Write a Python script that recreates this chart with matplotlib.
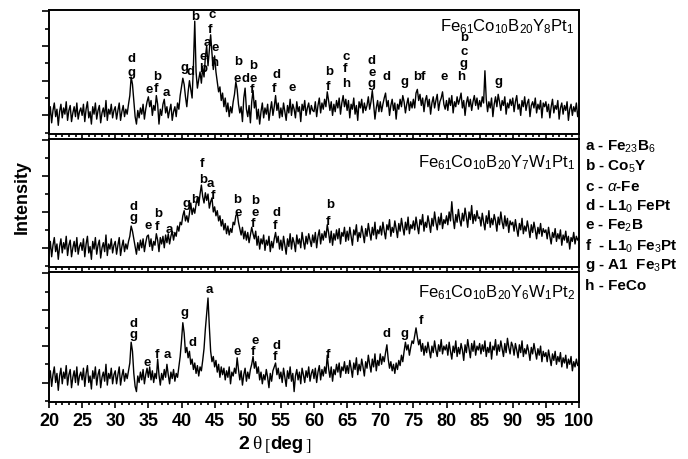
import matplotlib
matplotlib.use('Agg')
import matplotlib.pyplot as plt
import numpy as np
from matplotlib.ticker import MultipleLocator, FixedLocator

plt.rcParams['font.family'] = ['Liberation Sans', 'DejaVu Sans']
plt.rcParams['mathtext.fontset'] = 'custom'
plt.rcParams['mathtext.rm'] = 'Liberation Sans'
plt.rcParams['mathtext.it'] = 'Liberation Sans:italic'
plt.rcParams['mathtext.bf'] = 'Liberation Sans:bold'

# intensity (% of panel height), 20..100 deg, 0.2 deg step
top_pattern = [
    12, 22, 9, 19, 25, 14, 20, 7, 18, 24, 13, 21, 16, 26, 11, 19, 23, 10, 17, 22, 14, 25, 12, 18, 21,
    15, 24, 10, 20, 26, 13, 18, 8, 22, 16, 25, 12, 19, 23, 9, 17, 21, 14, 27, 11, 20, 16, 24, 13, 19,
    22, 12, 19, 25, 11, 18, 23, 14, 20, 16, 24, 31, 46, 40, 27, 14, 8, 19, 13, 21, 16, 24, 12, 20, 26,
    30, 22, 27, 15, 23, 19, 31, 24, 8, 20, 15, 24, 28, 17, 22, 13, 19, 24, 11, 18, 22, 14, 25, 20, 31,
    38, 45, 40, 30, 22, 34, 43, 36, 29, 55, 91, 50, 37, 44, 50, 41, 54, 46, 62, 71, 55, 67, 80, 65, 52,
    63, 50, 42, 34, 38, 27, 33, 22, 29, 18, 25, 14, 22, 17, 26, 32, 42, 36, 24, 17, 22, 10, 29, 37, 20,
    14, 23, 9, 26, 35, 21, 27, 12, 20, 8, 18, 25, 13, 21, 16, 24, 11, 19, 26, 15, 22, 31, 19, 25, 13,
    21, 14, 25, 18, 11, 23, 17, 28, 15, 24, 20, 13, 26, 18, 22, 10, 24, 19, 27, 15, 21, 25, 16, 23, 19,
    18, 26, 14, 23, 29, 17, 25, 20, 28, 22, 34, 27, 19, 26, 15, 24, 18, 27, 21, 29, 16, 25, 31, 22, 28,
    19, 27, 13, 24, 20, 29, 16, 23, 11, 26, 21, 28, 17, 25, 19, 23, 30, 20, 26, 35, 24, 12, 21, 27, 18,
    26, 18, 24, 29, 33, 22, 27, 15, 23, 28, 19, 25, 12, 24, 20, 28, 22, 31, 26, 17, 24, 29, 19, 26, 21,
    28, 21, 33, 36, 27, 32, 23, 29, 18, 27, 31, 22, 28, 16, 25, 30, 21, 27, 32, 19, 26, 29, 34, 24, 20,
    27, 19, 29, 23, 31, 17, 26, 22, 30, 24, 28, 33, 21, 27, 15, 25, 30, 22, 28, 19, 26, 31, 23, 29, 20,
    27, 22, 30, 25, 51, 28, 18, 26, 21, 29, 14, 24, 30, 22, 32, 26, 19, 27, 23, 30, 16, 25, 21, 28, 23,
    29, 18, 26, 31, 20, 24, 15, 27, 22, 30, 19, 25, 28, 14, 23, 26, 21, 29, 17, 24, 20, 27, 13, 25, 22,
    26, 18, 24, 13, 22, 28, 17, 23, 20, 27, 12, 21, 25, 16, 23, 19, 26, 11, 20, 24, 15, 22, 18, 25, 14,
    20,
]
mid_pattern = [
    11, 20, 8, 17, 23, 12, 18, 6, 16, 22, 11, 19, 14, 24, 9, 17, 21, 8, 15, 20, 12, 23, 10, 16, 19,
    13, 22, 8, 18, 24, 11, 16, 6, 20, 14, 23, 10, 17, 21, 7, 15, 19, 12, 25, 9, 18, 14, 22, 11, 17,
    20, 10, 17, 23, 9, 16, 21, 12, 18, 14, 20, 24, 32, 28, 22, 16, 10, 19, 13, 21, 15, 22, 12, 19, 24,
    25, 16, 22, 13, 20, 17, 26, 21, 12, 23, 18, 24, 15, 25, 19, 26, 18, 24, 28, 21, 27, 24, 32, 28, 35,
    33, 40, 44, 36, 40, 35, 42, 50, 41, 46, 42, 49, 54, 48, 57, 64, 55, 50, 58, 52, 57, 46, 51, 54, 43,
    47, 40, 44, 36, 40, 32, 37, 29, 34, 26, 32, 25, 30, 27, 35, 33, 40, 42, 35, 30, 25, 31, 22, 28, 21,
    27, 19, 25, 31, 26, 22, 28, 17, 24, 14, 22, 18, 25, 13, 21, 17, 24, 12, 20, 15, 22, 27, 19, 24, 14,
    21, 13, 24, 17, 10, 22, 16, 26, 14, 23, 19, 12, 25, 18, 22, 15, 27, 20, 14, 24, 18, 26, 21, 16, 25,
    19, 27, 15, 24, 29, 18, 26, 21, 28, 23, 33, 27, 19, 28, 17, 26, 21, 29, 22, 30, 18, 27, 24, 31, 20,
    28, 21, 31, 24, 17, 29, 25, 33, 20, 27, 23, 32, 26, 19, 30, 24, 34, 27, 21, 31, 25, 35, 22, 29, 26,
    32, 25, 35, 28, 22, 33, 29, 37, 24, 31, 27, 36, 30, 23, 34, 28, 38, 31, 25, 35, 29, 39, 26, 33, 30,
    36, 29, 39, 32, 26, 37, 33, 41, 28, 35, 31, 40, 34, 27, 38, 32, 43, 35, 29, 39, 33, 42, 30, 37, 34,
    40, 33, 43, 36, 51, 38, 30, 41, 35, 45, 37, 32, 42, 36, 46, 39, 31, 43, 37, 48, 34, 41, 36, 44, 38,
    39, 32, 42, 35, 29, 40, 34, 44, 31, 38, 33, 41, 36, 28, 39, 33, 43, 35, 30, 40, 32, 38, 27, 36, 33,
    35, 28, 37, 30, 24, 34, 29, 38, 26, 32, 28, 36, 30, 23, 33, 27, 35, 29, 22, 31, 26, 34, 24, 30, 27,
    29, 22, 31, 24, 18, 27, 23, 30, 20, 26, 22, 29, 17, 25, 21, 28, 19, 24, 14, 23, 20, 27, 18, 24, 21,
    23,
]
bot_pattern = [
    16, 24, 12, 21, 27, 15, 22, 9, 20, 26, 14, 23, 18, 28, 13, 21, 25, 11, 19, 24, 15, 27, 13, 20, 23,
    17, 26, 12, 22, 28, 15, 20, 10, 24, 18, 27, 13, 21, 25, 11, 19, 23, 16, 29, 13, 22, 18, 26, 14, 21,
    24, 14, 21, 27, 13, 20, 25, 16, 22, 18, 24, 30, 46, 39, 22, 12, 8, 20, 15, 23, 17, 25, 14, 21, 26,
    19, 27, 17, 24, 15, 22, 18, 33, 21, 13, 22, 17, 25, 19, 29, 21, 14, 23, 18, 25, 16, 22, 19, 27, 35,
    47, 61, 53, 38, 42, 34, 39, 29, 33, 25, 30, 22, 28, 20, 27, 24, 32, 41, 56, 68, 80, 58, 39, 31, 35,
    27, 32, 23, 29, 19, 27, 21, 26, 17, 24, 19, 27, 14, 23, 20, 26, 22, 34, 25, 17, 24, 13, 21, 26, 16,
    23, 18, 25, 29, 35, 26, 31, 22, 27, 17, 23, 14, 21, 17, 25, 19, 11, 22, 16, 24, 27, 30, 21, 26, 18,
    23, 15, 26, 19, 12, 24, 18, 27, 16, 22, 8, 20, 25, 17, 23, 14, 26, 21, 15, 24, 19, 27, 16, 22, 25,
    18, 26, 15, 23, 28, 17, 25, 20, 27, 22, 36, 26, 19, 27, 16, 25, 21, 29, 23, 30, 19, 27, 24, 31, 22,
    28, 22, 32, 26, 19, 30, 25, 34, 21, 29, 24, 33, 27, 20, 31, 26, 36, 29, 23, 33, 27, 37, 24, 32, 28,
    37, 29, 35, 31, 38, 44, 33, 26, 31, 24, 29, 22, 30, 25, 32, 28, 36, 31, 39, 46, 40, 44, 36, 42, 47,
    45, 51, 57, 50, 44, 48, 39, 45, 36, 43, 38, 46, 40, 34, 43, 38, 47, 40, 35, 44, 39, 48, 37, 43, 40,
    44, 36, 46, 39, 33, 43, 38, 47, 35, 42, 37, 45, 40, 32, 44, 38, 48, 41, 34, 45, 39, 47, 36, 43, 40,
    45, 37, 44, 39, 47, 35, 42, 38, 46, 33, 43, 40, 48, 36, 44, 39, 47, 41, 35, 45, 38, 49, 42, 37, 46,
    43, 36, 45, 40, 34, 44, 38, 47, 35, 41, 37, 44, 39, 32, 42, 37, 45, 39, 33, 41, 36, 43, 31, 39, 35,
    38, 31, 40, 34, 28, 37, 32, 39, 29, 35, 31, 38, 27, 34, 30, 36, 26, 33, 29, 35, 24, 31, 27, 33, 28,
    30,
]

top_name = r'Fe$_{61}$Co$_{10}$B$_{20}$Y$_{8}$Pt$_{1}$'
mid_name = r'Fe$_{61}$Co$_{10}$B$_{20}$Y$_{7}$W$_{1}$Pt$_{1}$'
bot_name = r'Fe$_{61}$Co$_{10}$B$_{20}$Y$_{6}$W$_{1}$Pt$_{2}$'

# peak letters: (2theta, height %, phase)
top_marks = [
    (32.5, 61, 'd'), (32.5, 50, 'g'), (35.1, 36, 'e'), (36.3, 47, 'b'), (36.15, 37, 'f'),
    (37.7, 34, 'a'), (40.4, 54, 'g'), (41.4, 51, 'd'), (42.0, 95, 'b'), (44.6, 97, 'c'),
    (44.3, 85, 'f'), (43.85, 74, 'a'), (45.05, 70, 'e'), (43.25, 63, 'e'), (43.25, 53, 'b'),
    (44.9, 58, 'h'), (48.5, 59, 'b'), (48.4, 45, 'e'), (49.7, 45, 'd'), (50.8, 45, 'e'),
    (50.8, 56, 'b'), (50.6, 36, 'f'), (54.3, 48, 'd'), (54.0, 37, 'f'), (56.7, 38, 'e'),
    (62.3, 51, 'b'), (62.1, 39, 'f'), (64.8, 63, 'c'), (64.7, 53, 'f'), (64.8, 41, 'h'),
    (68.75, 60, 'd'), (68.75, 50, 'e'), (68.75, 41, 'g'), (71.0, 47, 'd'), (73.6, 43, 'g'),
    (75.85, 47, 'bf'), (79.6, 47, 'e'), (82.6, 78, 'b'), (82.6, 67, 'c'), (82.6, 57, 'g'),
    (82.2, 47, 'h'), (87.9, 43, 'g'),
]
mid_marks = [
    (32.7, 48, 'd'), (32.7, 39, 'g'), (34.9, 33, 'e'), (36.45, 42, 'b'), (36.3, 32, 'f'),
    (38.1, 30, 'a'), (40.7, 50, 'g'), (42.0, 53, 'b'), (43.1, 81, 'f'), (43.2, 69, 'b'),
    (44.3, 66, 'a'), (44.8, 56, 'f'), (48.4, 53, 'b'), (48.5, 43, 'e'), (51.1, 52, 'b'),
    (51.1, 43, 'e'), (50.8, 34, 'f'), (54.4, 43, 'd'), (54.1, 33, 'f'), (62.4, 49, 'b'),
    (62.1, 36, 'f'),
]
bot_marks = [
    (32.7, 61, 'd'), (32.7, 52, 'g'), (34.8, 31, 'e'), (36.3, 37, 'f'), (37.8, 37, 'a'),
    (40.5, 69, 'g'), (41.6, 46, 'd'), (44.15, 87, 'a'), (48.4, 39, 'e'), (51.1, 48, 'e'),
    (50.8, 39, 'f'), (54.3, 44, 'd'), (54.1, 35, 'f'), (62.1, 37, 'f'), (71.0, 53, 'd'),
    (73.7, 53, 'g'), (76.15, 63, 'f'),
]

legend_lines = [
    r'a - Fe$_{23}$B$_{6}$', r'b - Co$_{5}$Y', r'c - $\alpha$-Fe', r'd - L1$_{0}$ FePt',
    r'e - Fe$_{2}$B', r'f  - L1$_{0}$ Fe$_{3}$Pt', r'g - A1  Fe$_{3}$Pt', 'h - FeCo',
]

W, H = 688, 460
fig = plt.figure(figsize=(W / 100, H / 100), dpi=100)

# panel pixel boxes (top, bottom)
boxes = [(11, 135), (140, 268), (273, 403)]
left_px, right_px = 49, 579

panels = [
    (top_pattern, top_name, top_marks, 0.87),
    (mid_pattern, mid_name, mid_marks, 0.82),
    (bot_pattern, bot_name, bot_marks, 0.85),
]

for k, ((ytop, ybot), (vals, name, marks, name_y)) in enumerate(zip(boxes, panels)):
    ax = fig.add_axes([left_px / W, 1 - ybot / H, (right_px - left_px) / W, (ybot - ytop) / H])
    x = np.linspace(20, 100, len(vals))
    ax.plot(x, vals, color='black', lw=1.0)
    ax.set_xlim(20, 100)
    ax.set_ylim(0, 100)
    for sp in ax.spines.values():
        sp.set_linewidth(1.4)

    ax.xaxis.set_major_locator(MultipleLocator(5))
    ax.xaxis.set_minor_locator(MultipleLocator(1))
    ax.yaxis.set_major_locator(FixedLocator([15, 43, 71, 99]))
    ax.yaxis.set_minor_locator(FixedLocator([1, 29, 57, 85]))
    ax.tick_params(axis='x', which='both', direction='out', top=False, bottom=True, width=1.2)
    ax.tick_params(axis='x', which='major', length=4)
    ax.tick_params(axis='x', which='minor', length=2.5)
    ax.tick_params(axis='y', which='both', direction='out', left=True, right=False,
                   labelleft=False, width=1.2)
    ax.tick_params(axis='y', which='major', length=5)
    ax.tick_params(axis='y', which='minor', length=3)

    if k < 2:
        ax.tick_params(axis='x', labelbottom=False)
    else:
        ax.tick_params(axis='x', which='major', pad=3)
        for lab in ax.get_xticklabels():
            lab.set_fontfamily(['Liberation Sans Narrow', 'Liberation Sans'])
            lab.set_fontweight('bold')
            lab.set_fontsize(13)

    ax.text(0.992, name_y, name, transform=ax.transAxes, ha='right', va='center',
            fontsize=12)

    for mx, my, letter in marks:
        ax.text(mx, my, letter, ha='center', va='center', fontsize=9.5, fontweight='bold')

fig.text(22 / W, 1 - 197 / H, 'Intensity', rotation=90, ha='center', va='center',
         fontsize=13, fontweight='bold')

# axis title "2 θ [deg]"
fig.text(238 / W, 1 - 445 / H, '2', ha='left', va='center', fontsize=14, fontweight='bold')
fig.text(252 / W, 1 - 445 / H, 'θ', ha='left', va='center', fontsize=14,
         family='Liberation Serif')
fig.text(265 / W, 1 - 447 / H, '[', ha='left', va='center', fontsize=12,
         family='Liberation Serif')
fig.text(270 / W, 1 - 445 / H, 'deg', ha='left', va='center', fontsize=13.5, fontweight='bold')
fig.text(305 / W, 1 - 447 / H, ']', ha='left', va='center', fontsize=12,
         family='Liberation Serif')

for i, line in enumerate(legend_lines):
    fig.text(585 / W, 1 - (147 + 19.8 * i) / H, line, ha='left', va='center',
             fontsize=11, fontweight='bold')

fig.savefig('out.png', dpi=100)
